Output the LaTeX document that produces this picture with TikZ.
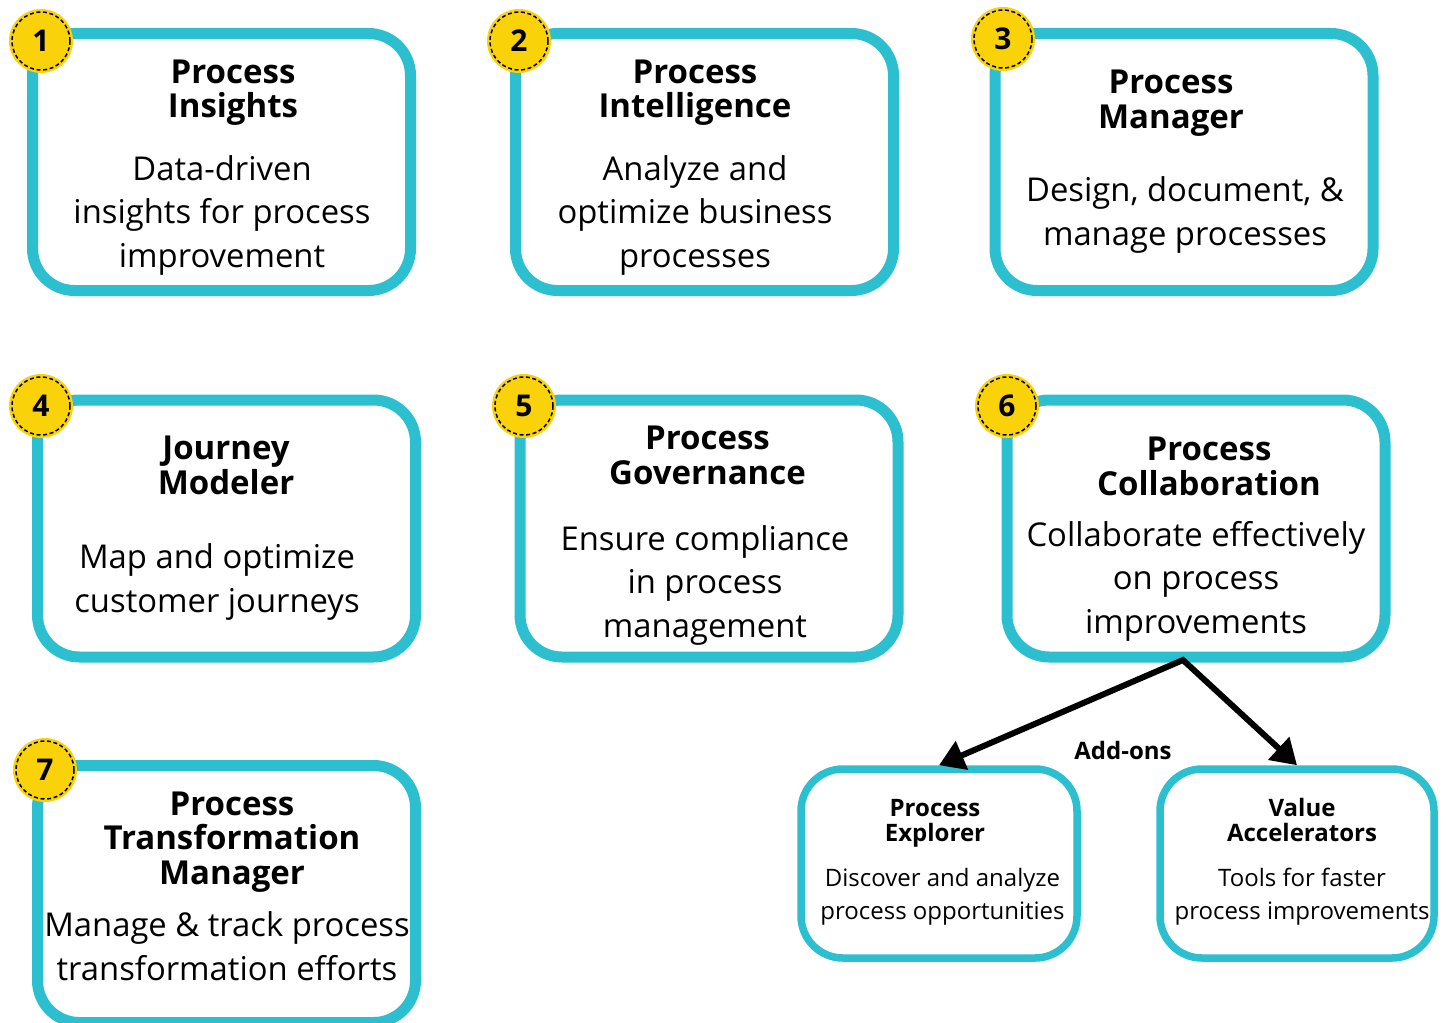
\documentclass[tikz,border=0pt]{standalone}
\usepackage{fontspec}
\setmainfont{Open Sans}
\usetikzlibrary{arrows.meta}
\definecolor{cardteal}{HTML}{2BBFCF}
\definecolor{badgeyellow}{HTML}{F9D20A}
\begin{document}
\begin{tikzpicture}[x=0.5pt,y=-0.5pt,
	card/.style={draw=cardteal,line width=5.5pt,rounded corners=21pt,fill=white,
		minimum width=189pt,minimum height=128.5pt,inner sep=0pt},
	smallcard/.style={card,line width=3.75pt,minimum width=138pt,minimum height=94.5pt},
	badge/.style={circle,fill=badgeyellow,minimum size=32pt,inner sep=0pt,
		font=\bfseries\fontsize{15}{15}\selectfont},
	ttl/.style={align=center,inner sep=0pt,anchor=base,font=\bfseries\fontsize{16.5}{17.25}\selectfont},
	txt/.style={align=center,inner sep=0pt,anchor=base,font=\fontsize{16.4}{21.75}\selectfont},
	sttl/.style={ttl,font=\bfseries\fontsize{12}{12.5}\selectfont},
	stxt/.style={txt,font=\fontsize{12}{16.25}\selectfont}]
	\path[use as bounding box,fill=white](0,0) rectangle (1450,1022);
	
	% the seven cards
	\node[card](insights) at (221.5,162) {};
	\node[card](intel) at (704.5,162) {};
	\node[card](manager) at (1184,162) {};
	\node[card](journey) at (226.5,528.5) {};
	\node[card](govern) at (709,528.5) {};
	\node[card](collab) at (1196,528.5) {};
	\node[card](transform) at (226.5,894) {};
	
	% texts sit on the baseline of their last line
	\node[ttl](insights-t) at (233,118) {Process\\Insights};
	\node[txt](insights-d) at (222,267) {Data-driven\\insights for process\\improvement};
	\node[ttl](intel-t) at (695,118) {Process\\Intelligence};
	\node[txt](intel-d) at (695,267) {Analyze and\\optimize business\\processes};
	\node[ttl](manager-t) at (1171,128) {Process\\Manager};
	\node[txt](manager-d) at (1185,245) {Design, document, \&\\manage processes};
	\node[ttl](journey-t) at (226,494) {Journey\\Modeler};
	\node[txt](journey-d) at (217,612) {Map and optimize\\customer journeys};
	\node[ttl](govern-t) at (707.5,484) {Process\\Governance};
	\node[txt](govern-d) at (705,637) {Ensure compliance\\in process\\management};
	\node[ttl](collab-t) at (1209,495) {Process\\Collaboration};
	\node[txt](collab-d) at (1196,633) {Collaborate effectively\\on process\\improvements};
	\node[ttl](transform-t) at (232,884) {Process\\Transformation\\Manager};
	\node[txt](transform-d) at (227,980) {Manage \& track process\\transformation efforts};
	
	% numbered badges
	\node[badge](b1) at (41,41) {1};
	\node[badge](b2) at (519,41) {2};
	\node[badge](b3) at (1003,39) {3};
	\node[badge](b4) at (41,406) {4};
	\node[badge](b5) at (524,406) {5};
	\node[badge](b6) at (1007,406) {6};
	\node[badge](b7) at (45,770) {7};
	\foreach \b in {b1,b2,b3,b4,b5,b6,b7}
		\draw[line width=0.75pt,dash pattern=on 2pt off 1.3pt](\b) circle [radius=14.5pt];
	
	% add-ons
	\node[smallcard](explorer) at (939,863.5) {};
	\node[smallcard,minimum width=137pt](valacc) at (1297,863.5) {};
	\node[sttl](explorer-t) at (935,841) {Process\\Explorer};
	\node[stxt](explorer-d) at (942.5,919) {Discover and analyze\\process opportunities};
	\node[sttl](valacc-t) at (1302,841) {Value\\Accelerators};
	\node[stxt](valacc-d) at (1302,919) {Tools for faster\\process improvements};
	
	\coordinate (fork) at (1183,660);
	\draw[line width=3pt,{Triangle[length=12.5pt,width=15pt]}-{Triangle[length=12.5pt,width=15pt]}]
		(explorer.north) -- (fork) -- (valacc.north);
	\node[sttl](addons) at (1123,759) {Add-ons};
\end{tikzpicture}
\end{document}
